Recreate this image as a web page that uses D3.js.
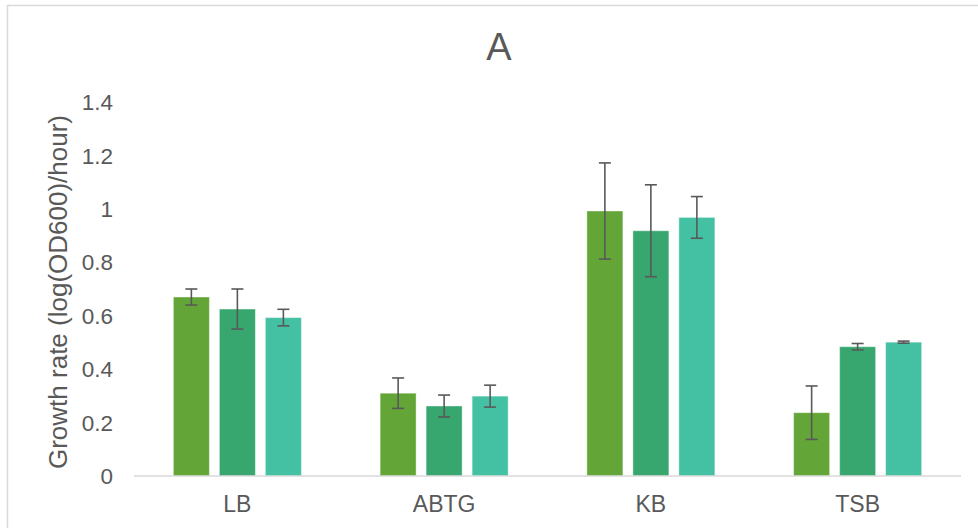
<!DOCTYPE html>
<html>
<head>
<meta charset="utf-8">
<script src="https://cdn.jsdelivr.net/npm/d3@7"></script>
<style>
  body { margin: 0; background: #fff; }
  svg { display: block; font-family: "Liberation Sans", Arial, sans-serif; }
</style>
</head>
<body>
<svg id="chart" width="978" height="528"></svg>
<script>
'use strict';

// data
const categories = ['LB', 'ABTG', 'KB', 'TSB'];
const seriesNames = ['s1', 's2', 's3'];
const seriesColors = ['#63a537', '#37a76f', '#44c1a3'];
const means = [
  [0.670, 0.625, 0.593],
  [0.310, 0.262, 0.299],
  [0.992, 0.918, 0.968],
  [0.237, 0.484, 0.501]
];
const errors = [
  [0.030, 0.075, 0.031],
  [0.057, 0.041, 0.041],
  [0.180, 0.172, 0.078],
  [0.100, 0.012, 0.004]
];
const yTicks = [0, 0.2, 0.4, 0.6, 0.8, 1, 1.2, 1.4];

const width = 978;
const height = 528;
const plot = {left: 134, right: 961, top: 102, bottom: 476};
const textColor = '#595959';

const svg = d3.select('#chart');

// outer chart border
svg.append('rect')
  .attr('x', 7.5).attr('y', 5.5)
  .attr('width', width + 10).attr('height', height + 10)
  .attr('fill', 'none')
  .attr('stroke', '#d9d9d9')
  .attr('stroke-width', 1.5);

const x0 = d3.scaleBand()
  .domain(categories)
  .range([plot.left, plot.right]);

const x1 = d3.scaleBand()
  .domain(seriesNames)
  .range([0, 128])
  .paddingInner(10 / 46);

const y = d3.scaleLinear()
  .domain([0, 1.4])
  .range([plot.bottom, plot.top]);

// title
svg.append('text')
  .attr('x', 499).attr('y', 60)
  .attr('text-anchor', 'middle')
  .attr('fill', textColor)
  .attr('font-size', 38)
  .text('A');

// y tick labels
svg.append('g')
  .selectAll('text')
  .data(yTicks)
  .join('text')
  .attr('x', 113)
  .attr('y', d => y(d))
  .attr('dy', '0.36em')
  .attr('text-anchor', 'end')
  .attr('fill', textColor)
  .attr('font-size', 22.5)
  .text(d => d3.format('')(d));

// y axis title
svg.append('text')
  .attr('transform', `translate(67, 292) rotate(-90)`)
  .attr('text-anchor', 'middle')
  .attr('fill', textColor)
  .attr('font-size', 26)
  .text('Growth rate (log(OD600)/hour)');

// bars
const groups = svg.append('g')
  .selectAll('g')
  .data(categories)
  .join('g')
  .attr('transform', d => `translate(${x0(d) + (x0.bandwidth() - 128) / 2}, 0)`);

groups.selectAll('rect')
  .data((d, i) => seriesNames.map((s, j) => ({s, j, v: means[i][j], e: errors[i][j]})))
  .join('rect')
  .attr('x', d => x1(d.s))
  .attr('y', d => y(d.v))
  .attr('width', x1.bandwidth())
  .attr('height', d => y(0) - y(d.v))
  .attr('fill', d => seriesColors[d.j])
  .attr('stroke', 'rgba(255,255,255,0.4)')
  .attr('stroke-width', 1);

// baseline
svg.append('line')
  .attr('x1', plot.left).attr('x2', plot.right)
  .attr('y1', y(0)).attr('y2', y(0))
  .attr('stroke', '#d9d9d9')
  .attr('stroke-width', 1.5);

// error bars
const errG = groups.selectAll('g.err')
  .data((d, i) => seriesNames.map((s, j) => ({s, j, v: means[i][j], e: errors[i][j]})))
  .join('g')
  .attr('class', 'err')
  .attr('stroke', '#595959')
  .attr('stroke-width', 1.6);

errG.append('line')
  .attr('x1', d => x1(d.s) + x1.bandwidth() / 2)
  .attr('x2', d => x1(d.s) + x1.bandwidth() / 2)
  .attr('y1', d => y(d.v + d.e))
  .attr('y2', d => y(d.v - d.e));

[1, -1].forEach(sign => {
  errG.append('line')
    .attr('x1', d => x1(d.s) + x1.bandwidth() / 2 - 6)
    .attr('x2', d => x1(d.s) + x1.bandwidth() / 2 + 6)
    .attr('y1', d => y(d.v + sign * d.e))
    .attr('y2', d => y(d.v + sign * d.e));
});

// category labels
svg.append('g')
  .selectAll('text')
  .data(categories)
  .join('text')
  .attr('x', d => x0(d) + x0.bandwidth() / 2)
  .attr('y', 512)
  .attr('text-anchor', 'middle')
  .attr('fill', textColor)
  .attr('font-size', 23)
  .text(d => d);
</script>
</body>
</html>
